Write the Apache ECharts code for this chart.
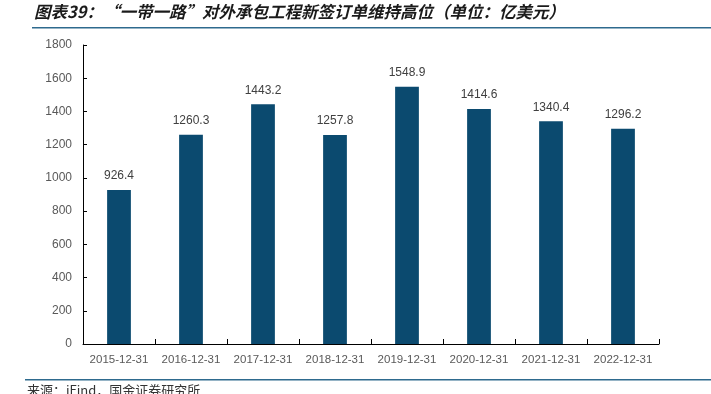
<!DOCTYPE html>
<html><head><meta charset="utf-8">
<script src="https://cdn.jsdelivr.net/npm/echarts@6/dist/echarts.min.js"></script>
<style>html,body{margin:0;padding:0;background:#fff}#c{width:711px;height:394px}</style>
</head><body><div id="c"></div>
<script>
var categories = ['2015-12-31','2016-12-31','2017-12-31','2018-12-31','2019-12-31','2020-12-31','2021-12-31','2022-12-31'];
var values = [926.4, 1260.3, 1443.2, 1257.8, 1548.9, 1414.6, 1340.4, 1296.2];
var yTicks = {min: 0, max: 1800, interval: 200};
var titleText = '图表39：“一带一路”对外承包工程新签订单维持高位（单位：亿美元）';
var sourceText = '来源：iFind，国金证券研究所';

var chart = echarts.init(document.getElementById('c'));
chart.setOption({
  animation: false,
  grid: {left: 83, right: 52, top: 45, bottom: 50, containLabel: false},
  xAxis: {
    type: 'category', data: categories,
    axisLine: {lineStyle: {color: '#000', width: 1}},
    axisTick: {show: true, inside: true, length: 5, lineStyle: {color: '#000'}},
    axisLabel: {interval: 0, color: '#595959', fontSize: 11.5, margin: 10, fontFamily: 'Liberation Sans, Arial'}
  },
  yAxis: {
    type: 'value', min: yTicks.min, max: yTicks.max, interval: yTicks.interval,
    axisLine: {show: true, lineStyle: {color: '#000', width: 1}},
    axisTick: {show: true, inside: true, length: 4, lineStyle: {color: '#000'}},
    splitLine: {show: false},
    axisLabel: {color: '#595959', fontSize: 12, margin: 11, fontFamily: 'Liberation Sans, Arial',
      formatter: function(v){return String(v);}}
  },
  series: [{
    type: 'bar', data: values, barWidth: '33%',
    itemStyle: {color: '#0B4A6F'},
    label: {show: true, position: 'top', distance: 8, color: '#404040', fontSize: 12,
      fontFamily: 'Liberation Sans, Arial', formatter: function(p){return p.value.toFixed(1);}}
  }],
  graphic: [
    {type: 'text', left: 34, top: 3, style: {text: titleText, font: 'italic bold 16.5px "Noto Sans CJK SC"', fill: '#1a1a1a'}},
    {type: 'rect', shape: {x: 32, y: 27, width: 679, height: 1.5}, style: {fill: '#2E6A8E'}},
    {type: 'rect', shape: {x: 25, y: 379, width: 686, height: 1.5}, style: {fill: '#2E6A8E'}},
    {type: 'text', left: 27, top: 384, style: {text: sourceText, font: '13px "Noto Sans CJK SC"', fill: '#333'}}
  ]
});
</script></body></html>
